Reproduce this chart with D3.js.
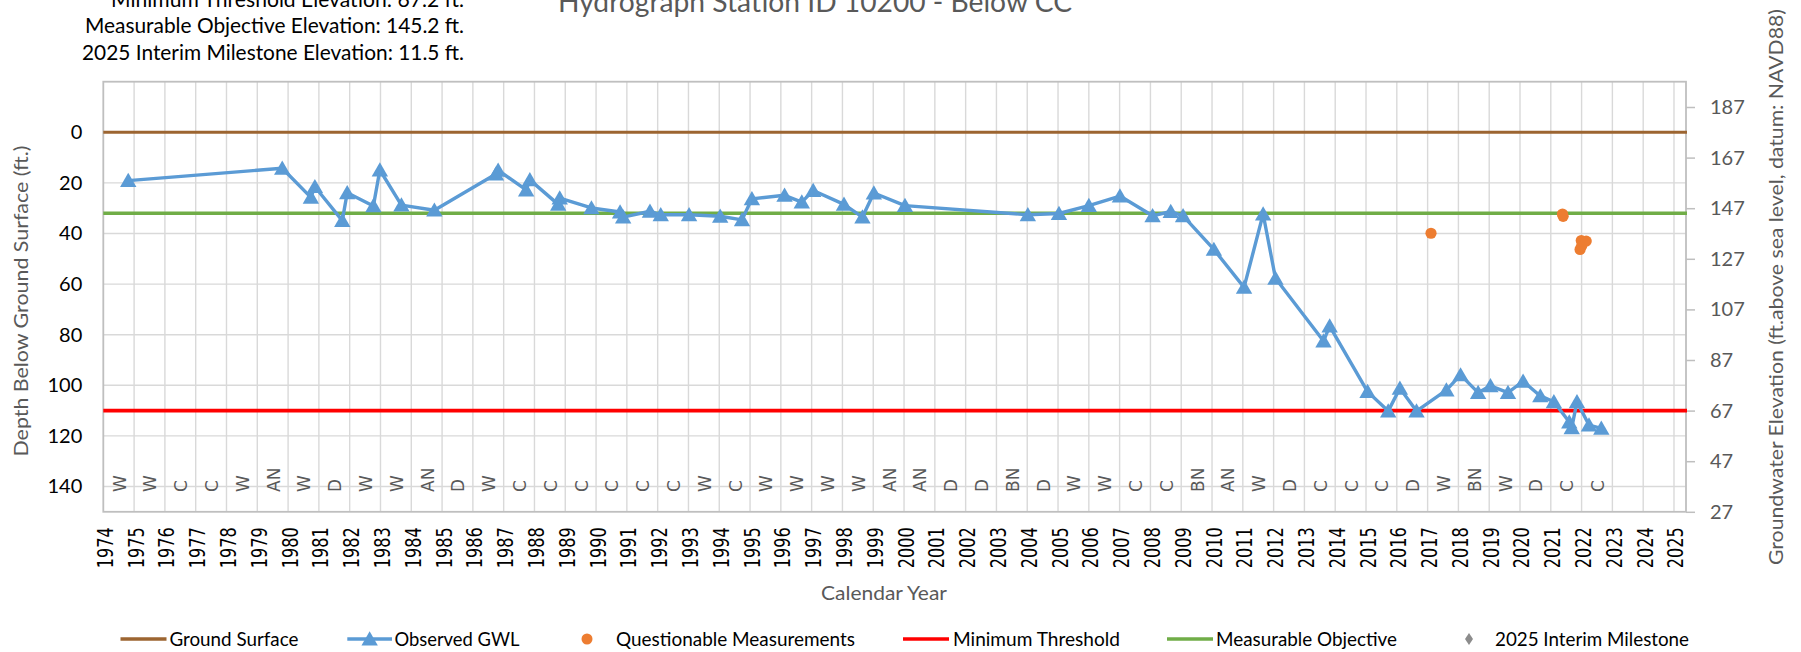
<!DOCTYPE html>
<html>
<head>
<meta charset="utf-8">
<script src="https://cdn.jsdelivr.net/npm/d3@7"></script>
<style>
  body { margin: 0; background: #fff; }
  svg { display: block; }
</style>
</head>
<body>
<div id="chart"></div>
<script>

// Hydrograph data

// observed groundwater levels: decimal year and depth below ground surface (ft)
const gwlYears = [1974.81, 1979.81, 1980.74, 1980.87, 1981.76, 1981.92, 1982.77, 1982.98, 1983.68, 1984.75,
  1986.75, 1986.82, 1987.73, 1987.85, 1988.77, 1988.82, 1989.85, 1990.78, 1990.88, 1991.75,
  1992.10, 1993.02, 1994.03, 1994.74, 1995.06, 1996.12, 1996.68, 1997.05, 1998.05, 1998.65,
  1999.02, 2000.03, 2004.02, 2005.03, 2006.00, 2007.01, 2008.07, 2008.66, 2009.06, 2010.06,
  2011.04, 2011.66, 2012.06, 2013.62, 2013.82, 2015.05, 2015.72, 2016.10, 2016.64, 2017.61,
  2018.07, 2018.64, 2019.04, 2019.61, 2020.10, 2020.66, 2021.10, 2021.60, 2021.68, 2021.85,
  2022.24, 2022.64];
const gwlDepths = [19.1, 14.2, 25.7, 21.5, 34.9, 23.9, 29.1, 14.9, 28.8, 30.8,
  16.5, 15.0, 22.8, 18.8, 28.5, 26.0, 29.9, 31.5, 33.5, 31.2,
  32.6, 32.6, 33.2, 34.6, 26.3, 24.9, 27.6, 23.0, 28.5, 33.5,
  24.0, 29.0, 32.6, 32.1, 29.0, 25.2, 33.0, 31.3, 33.0, 46.3,
  61.3, 32.3, 57.7, 82.5, 76.6, 102.5, 110.2, 101.2, 110.2, 101.9,
  95.9, 102.9, 100.2, 102.9, 98.4, 104.2, 106.5, 114.5, 116.8, 106.5,
  115.7, 117.0];

// questionable measurements
const questionableYears = [2017.11, 2021.38, 2021.40, 2021.95, 2022.00, 2021.99, 2022.15];
const questionableDepths = [39.9, 32.3, 33.2, 46.3, 45.0, 42.8, 43.0];

// 2025 interim milestone (elevation 11.5 ft -> below the plotted range)
const milestoneYears = [2025.0];
const milestoneDepths = [165.7];

// reference levels (depth below ground surface, ft)
const groundSurfaceDepth = 0;
const minThresholdDepth = 110;
const measurableObjDepth = 32;

// water year types, one per year starting 1974
const firstWaterYear = 1974;
const waterYearTypes = ["W","W","C","C","W","AN","W","D","W","W","AN","D","W","C","C","C","C","C","C","W",
  "C","W","W","W","W","AN","AN","D","D","BN","D","W","W","C","C","BN","AN","W","D","C",
  "C","C","D","W","BN","W","D","C","C"];

// ticks
const yearTicks = d3.range(1974, 2026);
const depthTicks = [0, 20, 40, 60, 80, 100, 120, 140];
const depthGrid = [-20, 0, 20, 40, 60, 80, 100, 120, 140];
const elevTicks = [27, 47, 67, 87, 107, 127, 147, 167, 187];

// texts
const chartTitle = "Hydrograph Station ID 10200 - Below CC";
const headerLines = ["Minimum Threshold Elevation: 67.2 ft.",
  "Measurable Objective Elevation: 145.2 ft.",
  "2025 Interim Milestone Elevation: 11.5 ft."];
const legendNames = ["Ground Surface", "Observed GWL", "Questionable Measurements",
  "Minimum Threshold", "Measurable Objective", "2025 Interim Milestone"];


// Dimensions
const width = 1801;
const height = 652;
const plot = {left: 103.3, right: 1686, top: 81.7, bottom: 511.8};

const svg = d3.select("#chart")
  .append("svg")
  .attr("width", width)
  .attr("height", height)
  .attr("viewBox", [0, 0, width, height])
  .style("font-family", "Lato, 'Open Sans', sans-serif");

svg.append("rect").attr("width", width).attr("height", height).attr("fill", "#fff");

// scales
const x = d3.scaleLinear().domain([1974, 2025.39]).range([plot.left, plot.right]);
const y = d3.scaleLinear().domain([-20, 150]).range([plot.top, plot.bottom]);
const yRight = d3.scaleLinear().domain([197, 27]).range([plot.top, plot.bottom]);

svg.append("clipPath").attr("id", "clip")
  .append("rect")
  .attr("x", plot.left - 10).attr("y", plot.top)
  .attr("width", plot.right - plot.left + 10).attr("height", plot.bottom - plot.top);

/*
  Gridlines + frame
*/
svg.append("g")
  .selectAll("line")
  .data(yearTicks.slice(1))
  .join("line")
  .attr("x1", d => x(d)).attr("x2", d => x(d))
  .attr("y1", plot.top).attr("y2", plot.bottom)
  .attr("stroke", "#d9d9d9").attr("stroke-width", 1.4);

svg.append("g")
  .selectAll("line")
  .data(depthGrid.slice(1))
  .join("line")
  .attr("x1", plot.left).attr("x2", plot.right)
  .attr("y1", d => y(d)).attr("y2", d => y(d))
  .attr("stroke", "#d9d9d9").attr("stroke-width", 1.4);

svg.append("rect")
  .attr("x", plot.left).attr("y", plot.top)
  .attr("width", plot.right - plot.left).attr("height", plot.bottom - plot.top)
  .attr("fill", "none").attr("stroke", "#bfbfbf").attr("stroke-width", 1.8);

/*
  Axes
*/
// left axis (depth)
const leftAxis = svg.append("g")
  .attr("transform", `translate(${plot.left},0)`)
  .call(d3.axisLeft(y).tickValues(depthTicks).tickSize(0).tickPadding(21));
leftAxis.select(".domain").remove();
leftAxis.selectAll("text")
  .attr("font-family", "Lato, sans-serif")
  .attr("font-size", 20).attr("fill", "#000");

// right axis (elevation)
const rightAxis = svg.append("g")
  .attr("transform", `translate(${plot.right},0)`)
  .call(d3.axisRight(yRight).tickValues(elevTicks).tickSize(9).tickPadding(15));
rightAxis.select(".domain").remove();
rightAxis.selectAll("line").attr("stroke", "#bfbfbf").attr("stroke-width", 1.5);
rightAxis.selectAll("text")
  .attr("font-family", "Lato, sans-serif")
  .attr("font-size", 20).attr("fill", "#595959");

// bottom axis (years, rotated)
const bottomAxis = svg.append("g")
  .attr("transform", `translate(0,${plot.bottom})`)
  .call(d3.axisBottom(x).tickValues(yearTicks).tickFormat(d3.format("d")).tickSize(0));
bottomAxis.select(".domain").remove();
bottomAxis.selectAll("text")
  .attr("transform", "rotate(-90)")
  .attr("x", -15.5).attr("y", 9).attr("dy", 0)
  .attr("text-anchor", "end")
  .attr("font-family", "'DejaVu Sans', sans-serif")
  .attr("font-size", 20.5).attr("fill", "#000")
  .attr("textLength", 41).attr("lengthAdjust", "spacingAndGlyphs");

// water year type labels
svg.append("g")
  .selectAll("text")
  .data(waterYearTypes)
  .join("text")
  .attr("transform", (d, i) => `translate(${x(firstWaterYear + i + 0.5)},492) rotate(-90)`)
  .attr("y", 7)
  .attr("font-family", "'DejaVu Sans', sans-serif")
  .attr("font-size", 17).attr("fill", "#595959")
  .text(d => d);

/*
  Reference lines
*/
const refLines = [
  {depth: groundSurfaceDepth, color: "#9c6531", w: 3},
  {depth: measurableObjDepth, color: "#70ad47", w: 3.3},
  {depth: minThresholdDepth, color: "#ff0000", w: 3.6}
];
svg.append("g")
  .selectAll("line")
  .data(refLines)
  .join("line")
  .attr("x1", plot.left).attr("x2", plot.right + 1)
  .attr("y1", d => y(d.depth)).attr("y2", d => y(d.depth))
  .attr("stroke", d => d.color).attr("stroke-width", d => d.w);

/*
  Series
*/
const marks = svg.append("g").attr("clip-path", "url(#clip)");
const triangle = "M0,-7.8L8.2,6.4L-8.2,6.4Z";
const gwl = gwlYears.map((yr, i) => ({year: yr, depth: gwlDepths[i]}));

marks.append("path")
  .datum(gwl)
  .attr("fill", "none")
  .attr("stroke", "#5b9bd5").attr("stroke-width", 3.4)
  .attr("stroke-linejoin", "round")
  .attr("d", d3.line().x(d => x(d.year)).y(d => y(d.depth)));

marks.selectAll(".tri")
  .data(gwl)
  .join("path")
  .attr("class", "tri")
  .attr("transform", d => `translate(${x(d.year)},${y(d.depth)})`)
  .attr("d", triangle)
  .attr("fill", "#5b9bd5");

marks.selectAll(".qm")
  .data(questionableYears.map((yr, i) => ({year: yr, depth: questionableDepths[i]})))
  .join("circle")
  .attr("class", "qm")
  .attr("cx", d => x(d.year)).attr("cy", d => y(d.depth))
  .attr("r", 5.6).attr("fill", "#ed7d31");

marks.selectAll(".ms")
  .data(milestoneYears.map((yr, i) => ({year: yr, depth: milestoneDepths[i]})))
  .join("path")
  .attr("class", "ms")
  .attr("transform", d => `translate(${x(d.year)},${y(d.depth)})`)
  .attr("d", "M0,-6L4,0L0,6L-4,0Z")
  .attr("fill", "#8c8c8c");

/*
  Titles
*/
svg.append("text")
  .attr("x", 558).attr("y", 12)
  .attr("font-size", 28).attr("fill", "#595959")
  .attr("textLength", 514).attr("lengthAdjust", "spacingAndGlyphs")
  .text(chartTitle);

const headerBase = [6.5, 33.2, 59.9];
const headerWidth = [353, 379, 382];
svg.append("g")
  .selectAll("text")
  .data(headerLines)
  .join("text")
  .attr("x", (d, i) => 464 - headerWidth[i])
  .attr("y", (d, i) => headerBase[i])
  .attr("font-size", 21).attr("fill", "#000")
  .attr("textLength", (d, i) => headerWidth[i]).attr("lengthAdjust", "spacingAndGlyphs")
  .text(d => d);

svg.append("text")
  .attr("x", 884).attr("y", 600)
  .attr("text-anchor", "middle")
  .attr("font-size", 19).attr("fill", "#595959")
  .attr("textLength", 126).attr("lengthAdjust", "spacingAndGlyphs")
  .text("Calendar Year");

svg.append("text")
  .attr("transform", "translate(28,301) rotate(-90)")
  .attr("text-anchor", "middle")
  .attr("font-size", 19.5).attr("fill", "#595959")
  .attr("textLength", 311).attr("lengthAdjust", "spacingAndGlyphs")
  .text("Depth Below Ground Surface  (ft.)");

svg.append("text")
  .attr("transform", "translate(1783,287) rotate(-90)")
  .attr("text-anchor", "middle")
  .attr("font-size", 19.5).attr("fill", "#595959")
  .attr("textLength", 556).attr("lengthAdjust", "spacingAndGlyphs")
  .text("Groundwater Elevation (ft.above sea level, datum: NAVD88)");

/*
  Legend
*/
const legendY = 639;
const legendItems = [
  {kind: "line", color: "#9c6531", x0: 120.5, x1: 166.5, tx: 169.4, tw: 129},
  {kind: "tri", color: "#5b9bd5", x0: 347.3, x1: 392, tx: 394.4, tw: 125},
  {kind: "dot", color: "#ed7d31", x0: 587, x1: 587, tx: 616, tw: 239},
  {kind: "line", color: "#ff0000", x0: 903, x1: 949, tx: 953, tw: 167},
  {kind: "line", color: "#70ad47", x0: 1167, x1: 1213, tx: 1216, tw: 181},
  {kind: "diamond", color: "#8c8c8c", x0: 1469, x1: 1469, tx: 1495, tw: 194}
];
const legend = svg.append("g");
legendItems.forEach((item, i) => {
  if (item.kind === "line" || item.kind === "tri") {
    legend.append("line")
      .attr("x1", item.x0).attr("x2", item.x1)
      .attr("y1", legendY).attr("y2", legendY)
      .attr("stroke", item.color).attr("stroke-width", 3.3);
  }
  if (item.kind === "tri") {
    legend.append("path")
      .attr("transform", `translate(${(item.x0 + item.x1) / 2},${legendY})`)
      .attr("d", triangle).attr("fill", item.color);
  }
  if (item.kind === "dot") {
    legend.append("circle").attr("cx", item.x0).attr("cy", legendY)
      .attr("r", 5.5).attr("fill", item.color);
  }
  if (item.kind === "diamond") {
    legend.append("path")
      .attr("transform", `translate(${item.x0},${legendY})`)
      .attr("d", "M0,-6L4,0L0,6L-4,0Z").attr("fill", item.color);
  }
  legend.append("text")
    .attr("x", item.tx).attr("y", legendY + 6.5)
    .attr("font-size", 18.5).attr("fill", "#000")
    .attr("textLength", item.tw).attr("lengthAdjust", "spacingAndGlyphs")
    .text(legendNames[i]);
});

</script>
</body>
</html>
